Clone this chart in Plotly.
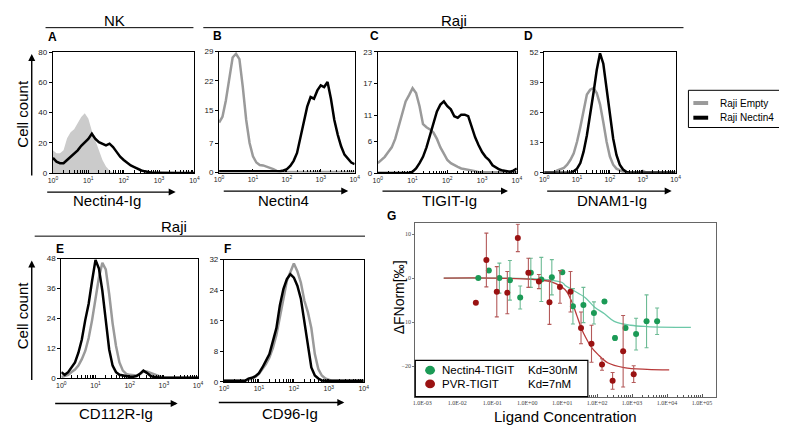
import plotly.graph_objects as go

W, H = 787, 425
FONT = 'Liberation Sans, Arial, sans-serif'
SERIF = 'Liberation Serif, Times New Roman, serif'
GRAY = '#9a9a9a'

# sample positions of the histograms, in decades of the log x axis (10^0 .. 10^4)
DECADES = [round(0.1 * i, 1) for i in range(41)]

# --- histogram counts (41 samples each) ---
A_ISO = [15, 13, 13, 15, 23, 27, 29, 33, 37, 39.5, 36, 28, 21.5, 15, 8.6, 4.3, 1.7, 0.4, 0,
         0, 0, 0, 0, 0, 0, 0, 0, 0, 0, 0, 0, 0, 0, 0, 0, 0, 0, 0, 0, 0, 0]
A_NECTIN = [10, 7.5, 6.5, 6.5, 8.6, 10.8, 12.5, 15, 18, 20.4, 22.6, 26, 22.6, 20.4, 19.4, 18.3,
            19.4, 17.2, 14, 10.8, 8.6, 6.5, 5, 3.9, 2.6, 1.7, 1.1, 0.4, 0.2, 0.2, 0.1, 0.2, 0.1,
            0.1, 0, 0, 0, 0, 0, 0, 0]

B_EMPTY = [12, 13.4, 17.3, 22.8, 27.6, 28.5, 27.2, 20.5, 12.6, 7.1, 3.9, 2.4, 1.8, 1.7, 1.4, 1.2,
           0.8, 0.4, 0.2, 0.1, 0.1, 0.1, 0.1, 0.1, 0.1, 0.1, 0.1, 0.1, 0.1, 0.1, 0.1, 0.1, 0.1,
           0.1, 0.1, 0.1, 0.1, 0.1, 0.1, 0.1, 0.1]
B_NECTIN = [0.3, 0.3, 0.3, 0.3, 0.3, 0.3, 0.3, 0.3, 0.3, 0.3, 0.3, 0.3, 0.3, 0.3, 0.3, 0.3, 0.3,
            0.3, 0.3, 0.5, 0.8, 1.6, 2.8, 4.7, 8.3, 11.8, 15.8, 18.1, 17.7, 19.7, 20.9, 20.5,
            21.7, 17.7, 12.6, 9.1, 6.3, 4.3, 3.2, 2.4, 2.0]

C_EMPTY = [1.9, 2.5, 3.1, 4.0, 4.9, 6.5, 8.7, 11.4, 13.6, 14.8, 16.1, 15.2, 12.7, 9.3, 8.7, 8.3,
           7.7, 6.5, 4.9, 3.7, 2.5, 1.9, 1.5, 1.2, 0.9, 0.8, 0.6, 0.5, 0.4, 0.2, 0.2, 0.2, 0.2,
           0.2, 0.2, 0.2, 0.2, 0.2, 0.2, 0.2, 0.2]
C_NECTIN = [0.05, 0.05, 0.05, 0.05, 0.05, 0.05, 0.05, 0.05, 0.05, 0.05, 0.3, 0.9, 1.9, 3.1, 4.9,
            7.1, 9.3, 11.7, 13.0, 13.6, 12.7, 12.1, 10.8, 10.5, 11.1, 11.1, 10.8, 8.7, 6.8, 5.3,
            4.0, 3.1, 2.5, 1.5, 1.1, 0.7, 0.5, 0.4, 0.3, 0.5, 0.9]

D_EMPTY = [0.2, 0.2, 0.2, 0.2, 1.0, 1.4, 2.1, 3.5, 5.6, 8.4, 13.4, 19.7, 27.4, 33.7, 35.8, 36.5,
           34.4, 29.5, 21.8, 13.4, 7.0, 3.5, 1.8, 1.0, 0.4, 0.2, 0.2, 0.2, 0.2, 0.2, 0.8, 0.2,
           0.2, 0.2, 0.2, 0.2, 0.2, 0.2, 0.2, 0.2, 0.2]
D_NECTIN = [0, 0, 0, 0, 0, 0, 0, 0, 0, 0.7, 1.8, 4.2, 9.1, 16.2, 24.6, 34.4, 44.3, 51.5, 47,
            35.8, 24.6, 14.8, 7.7, 3.5, 1.4, 0.4, 0, 0, 0, 0, 0, 0, 0, 0, 0, 0, 0, 0, 0, 0, 0]

E_EMPTY = [0.4, 0.8, 1.3, 2.4, 3.4, 5.0, 7.6, 10.9, 16.1, 23.3, 32.5, 40.4, 46.3, 43.7, 33.8,
           22.0, 12.9, 6.3, 3.0, 1.7, 1.3, 1.0, 1.0, 1.6, 2.6, 2.6, 2.1, 1.3, 0.8, 0.4, 0.1, 0.1,
           0.1, 0.1, 0.1, 0.1, 0.1, 0.1, 0.1, 0.1, 0.1]
E_NECTIN = [2.4, 1.3, 2.4, 4.3, 6.3, 10.2, 15.5, 23.3, 29.9, 39.1, 47.5, 44, 35.1, 23.3, 11.5,
            5.0, 2.4, 1.3, 1.0, 0.8, 0.5, 0.5, 0.8, 1.7, 3.0, 2.1, 1.0, 0.4, 0.1, 0.1, 0.1, 0.1,
            0.1, 0.1, 0.1, 0.1, 0.1, 0.1, 0.1, 0.1, 0.1]

F_EMPTY = [0.3, 0.3, 0.3, 0.3, 0.3, 0.3, 0.3, 0.6, 0.9, 1.3, 2.1, 3.4, 4.7, 6.4, 8.9, 12.3, 16.6,
           21.7, 26.5, 28.6, 31, 29.0, 26.0, 21.3, 18.3, 14.1, 7.3, 3.4, 1.7, 0.9, 0.6, 0.3, 0.3,
           0.3, 0.3, 0.3, 0.3, 0.3, 0.3, 0.3, 0.3]
F_NECTIN = [0.3, 0.3, 0.3, 0.3, 0.3, 0.3, 0.3, 0.9, 1.1, 1.5, 2.3, 3.8, 5.5, 7.3, 10.7, 14.1,
            20.1, 24.3, 26.9, 28.2, 27.3, 25.2, 21.8, 15.8, 9.0, 3.8, 1.7, 0.9, 0.4, 0.3, 0.3,
            0.3, 0.3, 0.3, 0.3, 0.3, 0.3, 0.3, 0.3, 0.3, 0.3]

Y_TICKS = {
    'A': [0, 20, 40, 60, 80],
    'B': [0, 7, 15, 22, 29],
    'C': [0, 6, 11, 17, 23],
    'D': [0, 13, 26, 39, 52],
    'E': [0, 12, 24, 36, 48],
    'F': [0, 8, 16, 24, 32],
}
X_TITLES = {'A': 'Nectin4-Ig', 'B': 'Nectin4', 'C': 'TIGIT-Ig', 'D': 'DNAM1-Ig',
            'E': 'CD112R-Ig', 'F': 'CD96-Ig'}

# --- MST binding curves (panel G), concentrations in nM ---
NEC_CONC = [0.04, 0.08, 0.16, 0.32, 0.63, 1.27, 2.53, 5.06, 10.1, 20.3, 40.5, 81, 162, 324,
            648, 1300, 2590, 5190]
NEC_DF = [0, 1.7, 0, -0.5, -4.4, 1.2, -0.3, 0.2, 1.3, -6.4, -6.1, -7.9, -5.3, -13.6, -11.3,
          -12.7, -9.8, -9.8]
NEC_ERR = [0, 0, 3.4, 4.5, 2.6, 3.3, 5.0, 4.0, 0, 4.0, 4.0, 2.5, 0, 0.5, 0.4, 3.6, 6.0, 3.0]

PVR_CONC = [0.034, 0.068, 0.135, 0.27, 0.54, 1.08, 2.16, 4.33, 8.65, 17.3, 34.6, 69, 138, 277,
            554, 1110]
PVR_DF = [-5.6, 4.1, -3.1, -3.3, 9.1, 1.2, -0.8, -5.5, -2.0, -3.1, -11.3, -14.9, -19.6, -23.3,
          -16.6, -21.8]
PVR_ERR = [0, 6.1, 5.7, 4.8, 3.1, 3.3, 1.6, 5.0, 3.7, 4.6, 3.6, 4.2, 1.3, 1.9, 8.1, 1.9]

# fitted curves
NEC_FIT_CONC = [0.0041, 0.1, 1.0, 3.2, 10, 12, 19, 45, 85, 162, 309, 912, 2690, 47900]
NEC_FIT_DF = [0, 0, -0.1, -0.3, -1.0, -1.6, -2.6, -4.4, -6.6, -8.1, -9.8, -10.7, -11.0, -11.2]
PVR_FIT_CONC = [0.0041, 0.1, 1.4, 5.1, 12, 18, 26, 35, 48, 69, 105, 200, 589, 2690, 11500]
PVR_FIT_DF = [0, 0, -0.3, -0.9, -2.6, -5.0, -8.4, -11.3, -13.6, -15.7, -17.3, -19.2, -20.3,
              -20.7, -20.8]
G_XTICKS = [1e-3, 1e-2, 1e-1, 1e0, 1e1, 1e2, 1e3, 1e4, 1e5]
G_XLABELS = ['1.0E-03', '1.0E-02', '1.0E-01', '1.0E+00', '1.0E+01', '1.0E+02', '1.0E+03',
             '1.0E+04', '1.0E+05']

GREEN, GREEN_ERR, GREEN_FIT = '#1b9a56', '#6dbb95', '#6cc8a8'
RED, RED_ERR, RED_FIT = '#9a1212', '#b45a5a', '#b83a3a'


def px(x):
    return x / W


def py(y):
    return 1 - y / H


# plot boxes in pixels: left, top, right, bottom
BOXES = {
    'A': (40.5, 41, 184, 164.5),
    'B': (209, 40.5, 346.5, 164),
    'C': (370, 40.7, 511, 164.7),
    'D': (538.7, 41, 672, 164.3),
    'E': (49, 252, 187.7, 374),
    'F': (214, 253, 355.7, 378),
}
CURVES = {
    'A': (A_ISO, A_NECTIN), 'B': (B_EMPTY, B_NECTIN), 'C': (C_EMPTY, C_NECTIN),
    'D': (D_EMPTY, D_NECTIN), 'E': (E_EMPTY, E_NECTIN), 'F': (F_EMPTY, F_NECTIN),
}

decade_ticks = [1, 10, 100, 1000, 10000]
decade_text = ['10<sup>%d</sup>' % e for e in range(5)]
minor_ticks = [m * 10 ** e for e in range(4) for m in range(2, 10)]

fig = go.Figure()
xs = [10 ** d for d in DECADES]

for n, key in enumerate(['A', 'B', 'C', 'D', 'E', 'F'], start=1):
    l, t, r, b = BOXES[key]
    empty, nectin = CURVES[key]
    if key == 'A':
        fig.add_trace(go.Scatter(x=xs, y=empty, mode='lines', fill='tozeroy',
                                 fillcolor='#cbcbcb', line=dict(width=0, color='#cbcbcb'),
                                 xaxis='x%d' % n, yaxis='y%d' % n, showlegend=False,
                                 hoverinfo='skip'))
    else:
        fig.add_trace(go.Scatter(x=xs, y=empty, mode='lines',
                                 line=dict(width=2.5, color=GRAY),
                                 xaxis='x%d' % n, yaxis='y%d' % n, showlegend=False))
    fig.add_trace(go.Scatter(x=xs, y=nectin, mode='lines',
                             line=dict(width=2.5, color='black'),
                             xaxis='x%d' % n, yaxis='y%d' % n, showlegend=False))
    yt = Y_TICKS[key]
    fig.layout['xaxis%d' % n] = dict(
        domain=[px(l), px(r)], anchor='y%d' % n, type='log', range=[0, 4],
        tickmode='array', tickvals=decade_ticks, ticktext=decade_text,
        ticks='inside', ticklen=3, tickcolor='black', tickwidth=1,
        minor=dict(tickmode='array', tickvals=minor_ticks, ticks='inside', ticklen=2.5,
                   tickcolor='black', showgrid=False),
        showline=True, linecolor='black', linewidth=1.2, mirror=True,
        showgrid=False, zeroline=False,
        tickfont=dict(family=FONT, size=7, color='#222'))
    fig.layout['yaxis%d' % n] = dict(
        domain=[py(b), py(t)], anchor='x%d' % n, range=[0, yt[-1]],
        tickmode='array', tickvals=yt, ticks='outside', ticklen=3, tickcolor='black',
        showline=True, linecolor='black', linewidth=1.2, mirror=True,
        showgrid=False, zeroline=False,
        tickfont=dict(family=FONT, size=8, color='#222'))

# panel G
fig.add_trace(go.Scatter(x=NEC_FIT_CONC, y=NEC_FIT_DF, mode='lines',
                         line=dict(color=GREEN_FIT, width=1.3, shape='spline'),
                         xaxis='x7', yaxis='y7', showlegend=False))
fig.add_trace(go.Scatter(x=PVR_FIT_CONC, y=PVR_FIT_DF, mode='lines',
                         line=dict(color=RED_FIT, width=1.3, shape='spline'),
                         xaxis='x7', yaxis='y7', showlegend=False))
fig.add_trace(go.Scatter(x=NEC_CONC, y=NEC_DF, mode='markers',
                         marker=dict(color=GREEN, size=6),
                         error_y=dict(type='data', array=NEC_ERR, color=GREEN_ERR,
                                      thickness=1.1, width=2),
                         xaxis='x7', yaxis='y7', showlegend=False))
fig.add_trace(go.Scatter(x=PVR_CONC, y=PVR_DF, mode='markers',
                         marker=dict(color=RED, size=6),
                         error_y=dict(type='data', array=PVR_ERR, color=RED_ERR,
                                      thickness=1.1, width=2),
                         xaxis='x7', yaxis='y7', showlegend=False))

g_minor = [m * 10 ** e for e in range(-3, 5) for m in range(2, 10)]

fig.layout['xaxis7'] = dict(
    domain=[px(408), px(713)], anchor='y7', type='log', range=[-3.2, 5.4],
    tickmode='array', tickvals=G_XTICKS, ticktext=G_XLABELS,
    ticks='inside', ticklen=3, tickcolor='#555',
    minor=dict(tickmode='array', tickvals=g_minor, ticks='inside', ticklen=2,
               tickcolor='#555', showgrid=False),
    showline=True, linecolor='#666', linewidth=1.2, mirror=True,
    showgrid=False, zeroline=False,
    tickfont=dict(family=SERIF, size=6, color='#444'))
fig.layout['yaxis7'] = dict(
    domain=[py(393), py(216)], anchor='x7', range=[-26.9, 12.4],
    tickmode='array', tickvals=[10, 0, -10, -20], ticks='outside', ticklen=2,
    tickcolor='#777', showline=True, linecolor='#666', linewidth=1.2, mirror=True,
    showgrid=False, zeroline=False,
    tickfont=dict(family=SERIF, size=6, color='#444'))

shapes = []
annotations = []


def text(x, y, s, size=15, bold=False, angle=0, anchor='center', color='black'):
    annotations.append(dict(
        x=px(x), y=py(y), xref='paper', yref='paper', text='<b>%s</b>' % s if bold else s,
        showarrow=False, xanchor=anchor, yanchor='middle', textangle=angle,
        font=dict(family=FONT, size=size, color=color)))


def hline(x0, x1, y, color='black', width=1):
    shapes.append(dict(type='line', xref='paper', yref='paper', x0=px(x0), x1=px(x1),
                       y0=py(y), y1=py(y), line=dict(color=color, width=width)))


def arrow(x0, y0, x1, y1):
    annotations.append(dict(
        x=px(x1), y=py(y1), xref='paper', yref='paper', ax=x0 - x1, ay=y0 - y1,
        text='', showarrow=True, arrowhead=2, arrowsize=1, arrowwidth=1.4,
        arrowcolor='black'))


# group headers
text(103, 9, 'NK')
hline(33, 183, 16)
text(447, 9, 'Raji')
hline(193, 680, 16)
text(163, 219, 'Raji')
hline(22, 357, 229)

# panel letters
for s, x, y in [('A', 40, 26), ('B', 207, 25), ('C', 367, 25), ('D', 523, 25),
                ('E', 48, 242), ('F', 218, 242), ('G', 384, 208)]:
    text(x, y, s, size=12, bold=True)

# x titles and arrows of histograms
for key, (xc, yc) in {'A': (95, 193), 'B': (274, 193), 'C': (443, 193), 'D': (607, 193),
                      'E': (104, 410), 'F': (281, 410)}.items():
    text(xc, yc, X_TITLES[key])
for x0, x1, y in [(35, 165, 184), (214, 340, 183), (375, 502, 183), (542, 668, 183),
                  (43, 167, 400), (209, 336, 399)]:
    arrow(x0, y, x1, y)

# cell count titles and vertical arrows
text(10, 104, 'Cell count', angle=-90)
arrow(19, 166, 19, 43)
text(10, 310, 'Cell count', angle=-90)
arrow(19, 375, 19, 254)

# histogram legend
shapes.append(dict(type='rect', xref='paper', yref='paper', x0=px(685), x1=px(786),
                   y0=py(118), y1=py(80), line=dict(color='black', width=1),
                   fillcolor='white'))
hline(690, 705, 93, color=GRAY, width=4)
hline(690, 705, 108, color='black', width=4)
text(715, 93, 'Raji Empty', size=10, anchor='left')
text(715, 108, 'Raji Nectin4', size=10, anchor='left')

# panel G titles and legend
text(391, 292, 'ΔFNorm[‰]', size=14, angle=-90)
text(560, 413, 'Ligand Concentration', size=15)
shapes.append(dict(type='rect', xref='paper', yref='paper', x0=px(408), x1=px(583),
                   y0=py(393), y1=py(356), line=dict(color='black', width=1.2),
                   fillcolor='white', layer='above'))
for yc, color in [(366, GREEN), (380, RED)]:
    shapes.append(dict(type='circle', xref='paper', yref='paper', x0=px(418), x1=px(428),
                       y0=py(yc + 4.5), y1=py(yc - 4.5), line=dict(color=color, width=0),
                       fillcolor=color, layer='above'))
text(433, 366, 'Nectin4-TIGIT', size=11.5, anchor='left')
text(520, 366, 'Kd=30nM', size=11.5, anchor='left')
text(433, 380, 'PVR-TIGIT', size=11.5, anchor='left')
text(520, 380, 'Kd=7nM', size=11.5, anchor='left')

fig.update_layout(
    width=W, height=H, margin=dict(l=0, r=0, t=0, b=0),
    paper_bgcolor='white', plot_bgcolor='white',
    shapes=shapes, annotations=annotations, showlegend=False,
    font=dict(family=FONT),
)

fig.write_html("out.html")
